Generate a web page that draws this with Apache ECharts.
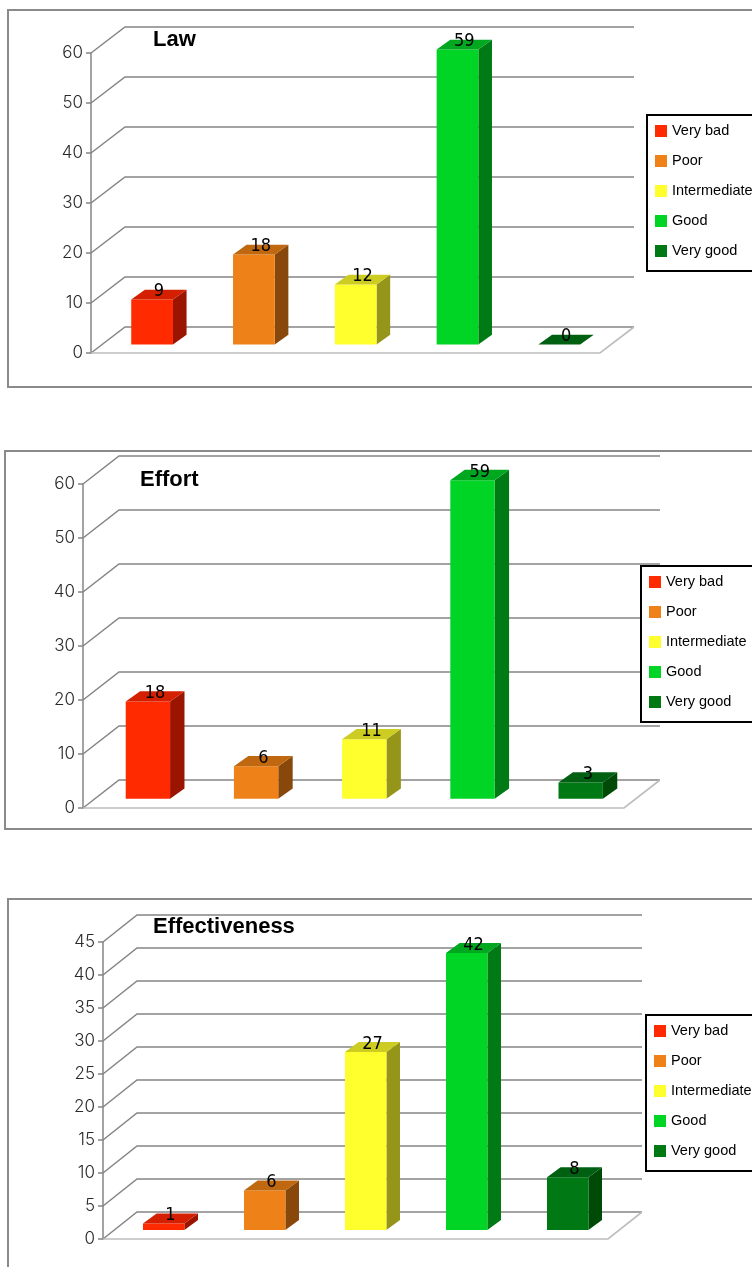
<!DOCTYPE html>
<html>
<head>
<meta charset="utf-8">
<title>Survey ratings</title>
<script src="https://cdn.jsdelivr.net/npm/echarts@6/dist/echarts.min.js"></script>
<style>
  html, body { margin: 0; padding: 0; background: #ffffff; }
  #chart { width: 752px; height: 1267px; }
</style>
</head>
<body>
<div id="chart"></div>
<script>
// Rating categories shared by the three panels
const categories = ['Very bad', 'Poor', 'Intermediate', 'Good', 'Very good'];

// Counts per rating
const lawValues = [9, 18, 12, 59, 0];
const effortValues = [18, 6, 11, 59, 3];
const effectivenessValues = [1, 6, 27, 42, 8];

// Value-axis ticks for each panel
const lawTicks = [0, 10, 20, 30, 40, 50, 60];
const effortTicks = [0, 10, 20, 30, 40, 50, 60];
const effectivenessTicks = [0, 5, 10, 15, 20, 25, 30, 35, 40, 45];

const panelTitles = ['Law', 'Effort', 'Effectiveness'];

// Face colours of each box: front, side, top
const frontColors = ['#ff2a00', '#ee8219', '#ffff2e', '#00d425', '#007814'];
const sideColors = ['#9a1400', '#88480c', '#959519', '#007a14', '#004a08'];
const topColors = ['#d42000', '#c0680f', '#cccc22', '#00a820', '#006012'];

const panels = [
  { title: panelTitles[0], values: lawValues, ticks: lawTicks,
    grid: { left: 91, top: 53, width: 509, height: 300 }, depth: [34, 26],
    titlePos: [153, 29], legendPos: [647, 115], frame: [8, 10, 800, 377] },
  { title: panelTitles[1], values: effortValues, ticks: effortTicks,
    grid: { left: 83, top: 484, width: 541, height: 324 }, depth: [36, 28],
    titlePos: [140, 469], legendPos: [641, 566], frame: [5, 451, 800, 378] },
  { title: panelTitles[2], values: effectivenessValues, ticks: effectivenessTicks,
    grid: { left: 103, top: 942, width: 505, height: 297 }, depth: [34, 27],
    titlePos: [153, 916], legendPos: [646, 1015], frame: [8, 899, 800, 420] }
];

const GRID_COLOR = '#858585';
const FLOOR_COLOR = '#bdbdbd';
const BAR_WIDTH_RATIO = 0.41;

// Back wall gridlines with their receding connectors, plus the floor outline
function wallRenderer(depth) {
  const DX = depth[0], DY = depth[1];
  return function (params, api) {
    const cs = params.coordSys;
    const v = api.value(1);
    const y = api.coord([0, v])[1];
    const x0 = cs.x, x1 = cs.x + cs.width;
    const children = [{
      type: 'polyline',
      shape: { points: [[x0, y], [x0 + DX, y - DY], [x1 + DX, y - DY]] },
      style: { stroke: GRID_COLOR, lineWidth: 1.5, fill: null }
    }];
    if (v === 0) {
      children.push({
        type: 'polyline',
        shape: { points: [[x0, y], [x1, y], [x1 + DX, y - DY]] },
        style: { stroke: FLOOR_COLOR, lineWidth: 1.6, fill: null }
      });
    }
    return { type: 'group', children: children };
  };
}

// One extruded box per category, with its value printed on the top face
function barRenderer(depth, idx) {
  const DX = depth[0], DY = depth[1];
  const fx = DX * 0.3, fy = DY * 0.33;   // front face sits a little inside the floor
  const dx = DX * 0.4, dy = DY * 0.37;   // thickness of the box
  return function (params, api) {
    const cat = api.value(0);
    const v = api.value(1);
    const pTop = api.coord([cat, v]);
    const pBase = api.coord([cat, 0]);
    const bw = api.size([1, 0])[0] * BAR_WIDTH_RATIO;
    const left = pTop[0] + fx - bw / 2;
    const right = left + bw;
    const top = pTop[1] - fy;
    const bottom = pBase[1] - fy;
    const children = [
      {
        type: 'polygon',
        shape: { points: [[right, top], [right + dx, top - dy], [right + dx, bottom - dy], [right, bottom]] },
        style: { fill: sideColors[idx] }
      },
      {
        type: 'rect',
        shape: { x: left, y: top, width: bw, height: bottom - top },
        style: { fill: frontColors[idx] }
      },
      {
        type: 'polygon',
        shape: { points: [[left, top], [left + dx, top - dy], [right + dx, top - dy], [right, top]] },
        style: { fill: topColors[idx] }
      },
      {
        type: 'text',
        x: (left + right) / 2 + dx / 2,
        y: top - dy / 2 - 3,
        style: {
          text: String(v),
          fill: '#000',
          font: '18px "DejaVu Sans Condensed", "DejaVu Sans", sans-serif',
          align: 'center',
          verticalAlign: 'middle'
        }
      }
    ];
    return { type: 'group', children: children };
  };
}

const option = {
  animation: false,
  backgroundColor: '#ffffff',
  title: [],
  legend: [],
  grid: [],
  xAxis: [],
  yAxis: [],
  series: [],
  graphic: []
};

panels.forEach(function (p, pi) {
  const ticks = p.ticks;
  const step = ticks[1] - ticks[0];
  option.grid.push(Object.assign({ containLabel: false }, p.grid));
  option.xAxis.push({
    type: 'category', gridIndex: pi, data: categories,
    axisLine: { show: false }, axisTick: { show: false }, axisLabel: { show: false },
    splitLine: { show: false }
  });
  option.yAxis.push({
    type: 'value', gridIndex: pi,
    min: ticks[0], max: ticks[ticks.length - 1], interval: step,
    axisLine: { show: true, lineStyle: { color: GRID_COLOR, width: 1.5 } },
    axisTick: { show: true, length: 5, lineStyle: { color: GRID_COLOR, width: 1.5 } },
    axisLabel: {
      margin: 8, color: '#2a2a2a', fontSize: 17, fontWeight: 300,
      fontFamily: 'Inter, "DejaVu Sans", sans-serif'
    },
    splitLine: { show: false }
  });
  option.title.push({
    text: p.title, left: p.titlePos[0], top: p.titlePos[1], padding: 0,
    textStyle: { fontFamily: '"Liberation Sans", Arial, sans-serif', fontSize: 22, fontWeight: 'bold', color: '#000' }
  });
  option.legend.push({
    orient: 'vertical',
    left: p.legendPos[0], top: p.legendPos[1],
    padding: [8, 12, 12, 8],
    itemGap: 14, itemWidth: 12, itemHeight: 12,
    icon: 'rect', selectedMode: false,
    borderColor: '#000', borderWidth: 2, backgroundColor: '#fff',
    textStyle: { fontFamily: '"Liberation Sans", Arial, sans-serif', fontSize: 14.5, color: '#000', lineHeight: 16 },
    data: categories.map(function (c, i) { return { name: c, itemStyle: { color: frontColors[i] } }; })
  });
  option.graphic.push({
    type: 'rect', silent: true, z: -10,
    shape: { x: p.frame[0], y: p.frame[1], width: p.frame[2], height: p.frame[3] },
    style: { fill: null, stroke: '#8a8a8a', lineWidth: 2 }
  });
  option.series.push({
    type: 'custom', name: 'wall-' + pi, xAxisIndex: pi, yAxisIndex: pi, z: 1,
    silent: true,
    data: ticks.map(function (t) { return [0, t]; }),
    encode: { x: 0, y: 1 },
    renderItem: wallRenderer(p.depth)
  });
  categories.forEach(function (c, i) {
    option.series.push({
      type: 'custom', name: c, xAxisIndex: pi, yAxisIndex: pi, z: 3,
      itemStyle: { color: frontColors[i] },
      data: [[i, p.values[i]]],
      encode: { x: 0, y: 1 },
      renderItem: barRenderer(p.depth, i)
    });
  });
});

const chart = echarts.init(document.getElementById('chart'), null, { renderer: 'canvas' });
chart.setOption(option);
</script>
</body>
</html>
